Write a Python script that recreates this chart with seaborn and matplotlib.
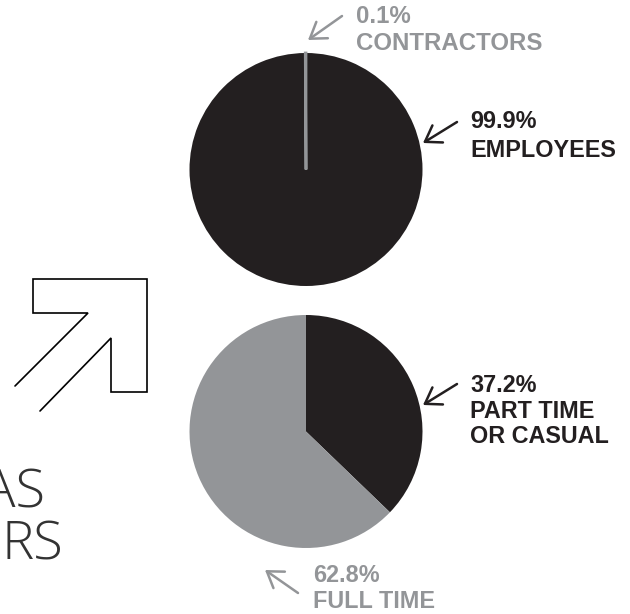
import matplotlib
matplotlib.use("Agg")
import matplotlib.pyplot as plt
import seaborn as sns

# chart data
top_labels = ["EMPLOYEES", "CONTRACTORS"]
top_values = [99.9, 0.1]
bottom_labels = ["PART TIME\nOR CASUAL", "FULL TIME"]
bottom_values = [37.2, 62.8]
side_words = ["AS", "RS"]

DARK = "#231f20"
GREY = "#939598"
W, H = 630, 614


def py(y):
    # convert a pixel row (from the top) to data y (from the bottom)
    return H - y


def pointer(ax, tail, tip, color):
    ax.annotate("", xy=(tip[0], py(tip[1])), xytext=(tail[0], py(tail[1])),
                arrowprops=dict(arrowstyle="->,head_length=0.6,head_width=0.4",
                                color=color, lw=1.8, mutation_scale=18,
                                shrinkA=0, shrinkB=0))


def label(ax, x, y_first, step, lines, color, size):
    for i, line in enumerate(lines):
        ax.text(x, py(y_first + i * step), line, color=color, fontsize=size,
                fontweight="bold", family="Liberation Sans", va="baseline",
                ha="left")


def main():
    sns.set_theme(style="white")
    plt.rcParams["font.family"] = ["Liberation Sans", "DejaVu Sans"]

    fig = plt.figure(figsize=(W / 100, H / 100), dpi=100)
    ax = fig.add_axes([0, 0, 1, 1])

    pal = sns.color_palette([DARK, GREY])

    # top pie: employees vs contractors
    wedges, _ = ax.pie(top_values, colors=pal, startangle=90, counterclock=False,
                       center=(306, py(169.5)), radius=116.5,
                       wedgeprops=dict(linewidth=0))
    wedges[1].set_edgecolor(GREY)
    wedges[1].set_linewidth(2.0)

    # bottom pie: part time vs full time
    ax.pie(bottom_values, colors=pal, startangle=90, counterclock=False,
           center=(306, py(431.5)), radius=116.5,
           wedgeprops=dict(linewidth=0))

    # labels and pointers
    pointer(ax, (342, 16), (308, 40), GREY)
    label(ax, 356, 23, 27, [f"{top_values[1]}%", top_labels[1]], GREY, 17.3)

    pointer(ax, (457, 122), (423, 143), DARK)
    label(ax, 470, 128, 29, [f"{top_values[0]}%", top_labels[0]], DARK, 16.8)

    pointer(ax, (457, 384), (423, 405), DARK)
    label(ax, 470, 392, 25.5, [f"{bottom_values[0]}%"] + bottom_labels[0].split("\n"),
          DARK, 16.8)

    pointer(ax, (298, 593), (265, 570), GREY)
    label(ax, 313, 582, 25.5, [f"{bottom_values[1]}%", bottom_labels[1]], GREY, 16.8)

    # outlined arrow on the left
    pts = [(15, 386), (88, 313), (33, 313), (33, 279), (147, 279),
           (147, 392), (111, 392), (111, 338), (40, 411)]
    ax.plot([p[0] for p in pts], [py(p[1]) for p in pts], color="black",
            lw=1.2, solid_joinstyle="miter")

    # cut-off heading on the left
    ax.text(45, py(507), side_words[0], ha="right", va="baseline", fontsize=39,
            family="Open Sans", fontweight="light", color="#333333")
    ax.text(63, py(560), side_words[1], ha="right", va="baseline", fontsize=39,
            family="Open Sans", fontweight="light", color="#333333")

    ax.set_xlim(0, W)
    ax.set_ylim(0, H)
    ax.set_aspect("equal")
    ax.axis("off")
    fig.savefig("out.png", dpi=100, facecolor="white")


if __name__ == "__main__":
    main()
